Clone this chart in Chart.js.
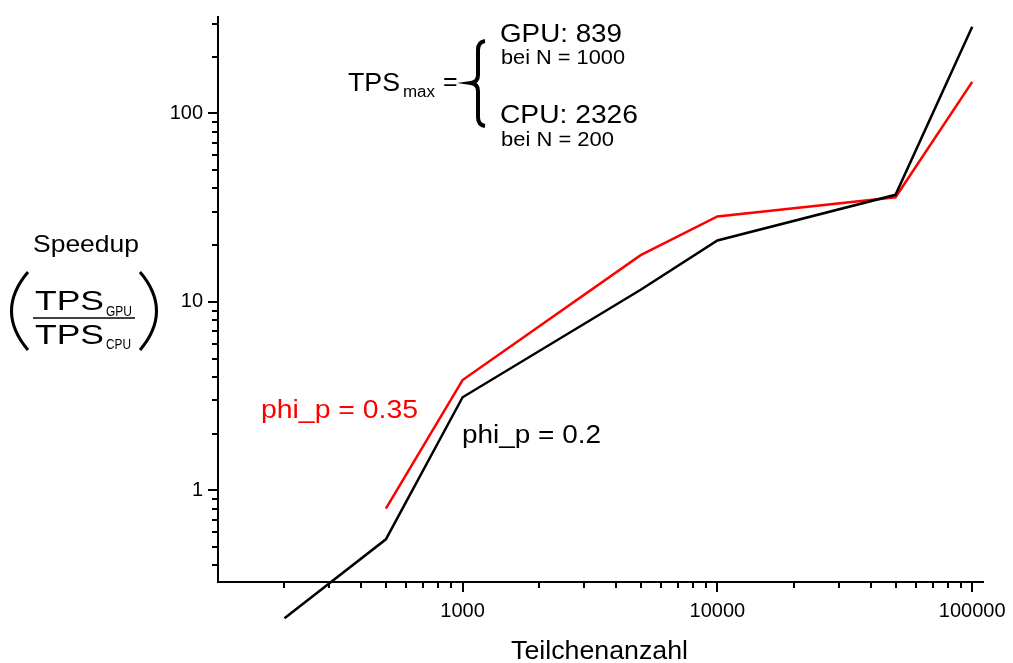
<!DOCTYPE html>
<html>
<head>
<meta charset="utf-8">
<script src="https://cdn.jsdelivr.net/npm/chart.js@4/dist/chart.umd.min.js"></script>
<style>
  html, body { margin: 0; padding: 0; background: #fff; }
  canvas { display: block; }
</style>
</head>
<body>
<canvas id="chart" width="1013" height="663"></canvas>
<script>
/* data */
var particleCounts = [200, 500, 1000, 5000, 10000, 50000, 100000];
var speedupPhi02  = [0.21, 0.55, 3.12, 11.6, 21.2, 37.0, 288];
var speedupPhi035 = [null, 0.80, 3.85, 17.7, 28.4, 35.9, 147];

var xMajorTicks = [1000, 10000, 100000];
var xMinorTicks = [200, 300, 400, 500, 600, 700, 800, 900,
                   2000, 3000, 4000, 5000, 6000, 7000, 8000, 9000,
                   20000, 30000, 40000, 50000, 60000, 70000, 80000, 90000];
var yMajorTicks = [1, 10, 100];
var yMinorTicks = [0.4, 0.5, 0.6, 0.7, 0.8, 0.9,
                   2, 3, 4, 5, 6, 7, 8, 9,
                   20, 30, 40, 50, 60, 70, 80, 90, 200, 300];

var FONT = '"Liberation Sans", Arial, Helvetica, sans-serif';

function toPoints(values) {
  var pts = [];
  for (var i = 0; i < particleCounts.length; i++) {
    if (values[i] != null) {
      pts.push({ x: particleCounts[i], y: values[i] });
    }
  }
  return pts;
}

/* text drawn squeezed/stretched to the width it has in the picture */
function putText(ctx, str, x, y, size, width, color) {
  ctx.save();
  ctx.font = size + 'px ' + FONT;
  ctx.fillStyle = color || '#000';
  ctx.textBaseline = 'alphabetic';
  ctx.textAlign = 'left';
  var w = ctx.measureText(str).width;
  ctx.translate(x, y);
  if (width) {
    ctx.scale(width / w, 1);
  }
  ctx.fillText(str, 0, 0);
  ctx.restore();
}

var decorPlugin = {
  id: 'decor',
  afterDraw: function(chart) {
    var ctx = chart.ctx;
    var xs = chart.scales.x;
    var ys = chart.scales.y;
    var area = chart.chartArea;

    /* minor ticks */
    ctx.save();
    ctx.strokeStyle = '#000';
    ctx.lineWidth = 2;
    ctx.beginPath();
    for (var i = 0; i < xMinorTicks.length; i++) {
      var px = Math.round(xs.getPixelForValue(xMinorTicks[i]));
      ctx.moveTo(px, area.bottom);
      ctx.lineTo(px, area.bottom + 6);
    }
    for (var j = 0; j < yMinorTicks.length; j++) {
      var py = Math.round(ys.getPixelForValue(yMinorTicks[j]));
      ctx.moveTo(area.left, py);
      ctx.lineTo(area.left - 6, py);
    }
    ctx.stroke();
    ctx.restore();

    /* axis titles */
    putText(ctx, 'Teilchenanzahl', 511, 659, 25, 177);
    putText(ctx, 'Speedup', 33, 252, 24, 106);

    /* fraction TPS_GPU / TPS_CPU */
    putText(ctx, 'TPS', 35, 310, 28, 69);
    putText(ctx, 'GPU', 106, 316, 15, 26);
    putText(ctx, 'TPS', 35, 344, 28, 69);
    putText(ctx, 'CPU', 106, 349, 15, 25);
    ctx.save();
    ctx.strokeStyle = '#000';
    ctx.lineWidth = 1.5;
    ctx.beginPath();
    ctx.moveTo(33, 318);
    ctx.lineTo(135, 318);
    ctx.stroke();
    ctx.lineWidth = 3;
    ctx.beginPath();
    ctx.moveTo(28, 272);
    ctx.quadraticCurveTo(-5, 311, 28, 350);
    ctx.moveTo(140, 272);
    ctx.quadraticCurveTo(173, 311, 140, 350);
    ctx.stroke();
    ctx.restore();

    /* TPS_max box */
    putText(ctx, 'TPS', 348, 91, 25, 52);
    putText(ctx, 'max', 403, 97, 16, 32);
    putText(ctx, '=', 443, 90, 25, null);
    ctx.save();
    ctx.strokeStyle = '#000';
    ctx.lineWidth = 4;
    ctx.beginPath();
    ctx.moveTo(485, 41);
    ctx.quadraticCurveTo(478, 42, 478, 50);
    ctx.lineTo(478, 75);
    ctx.quadraticCurveTo(478, 82, 471, 83);
    ctx.quadraticCurveTo(478, 84, 478, 91);
    ctx.lineTo(478, 117);
    ctx.quadraticCurveTo(478, 125, 485, 126);
    ctx.stroke();
    ctx.restore();
    putText(ctx, 'GPU: 839', 500, 42, 26, 122);
    putText(ctx, 'bei N = 1000', 501, 64, 20, 124);
    putText(ctx, 'CPU: 2326', 500, 123, 26, 138);
    putText(ctx, 'bei N = 200', 501, 146, 20, 113);

    /* series labels */
    putText(ctx, 'phi_p = 0.35', 261, 418, 26, 157, '#ff0000');
    putText(ctx, 'phi_p = 0.2', 462, 443, 26, 139, '#000');
  }
};

function axisOptions(min, max, majors, fit) {
  return {
    type: 'logarithmic',
    min: min,
    max: max,
    bounds: 'data',
    border: { display: true, color: '#000', width: 2 },
    grid: { drawOnChartArea: false, color: '#000', lineWidth: 2, tickLength: 10 },
    ticks: {
      color: '#000',
      font: { family: FONT, size: 20 },
      autoSkip: false,
      maxRotation: 0,
      callback: function(v) { return String(v); }
    },
    afterBuildTicks: function(scale) {
      scale.ticks = majors.map(function(v) { return { value: v }; });
    },
    afterFit: fit
  };
}

var xAxis = axisOptions(109.7, 110200, xMajorTicks, function(s) { s.height = 81; });
xAxis.ticks.padding = 7;
var yAxis = axisOptions(0.3267, 324.8, yMajorTicks, function(s) { s.width = 218; });
yAxis.ticks.padding = 5;

new Chart(document.getElementById('chart'), {
  type: 'line',
  data: {
    datasets: [
      {
        label: 'phi_p = 0.2',
        data: toPoints(speedupPhi02),
        borderColor: '#000',
        borderWidth: 2.5,
        pointRadius: 0,
        tension: 0,
        clip: false
      },
      {
        label: 'phi_p = 0.35',
        data: toPoints(speedupPhi035),
        borderColor: '#ff0000',
        borderWidth: 2.5,
        pointRadius: 0,
        tension: 0,
        clip: false
      }
    ]
  },
  options: {
    responsive: false,
    animation: false,
    devicePixelRatio: 1,
    layout: { padding: { top: 2, right: 29, left: 0, bottom: 0 } },
    plugins: { legend: { display: false }, tooltip: { enabled: false } },
    scales: { x: xAxis, y: yAxis }
  },
  plugins: [decorPlugin]
});
</script>
</body>
</html>
